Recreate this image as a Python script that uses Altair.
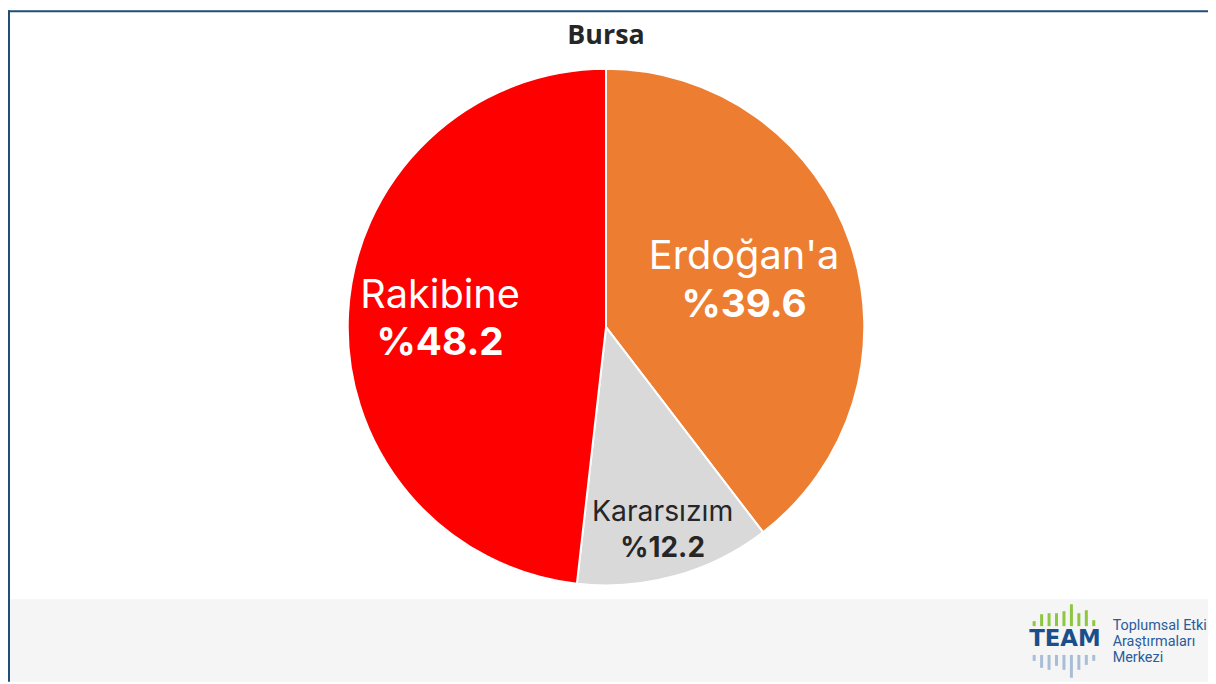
import altair as alt
import pandas as pd

# ---- data ----
categories = ["Erdoğan'a", "Kararsızım", "Rakibine"]
values = [39.6, 12.2, 48.2]
colors = ["#ED7D31", "#D9D9D9", "#FF0000"]
title_text = "Bursa"
logo_word = "TEAM"
logo_green = [5, 12, 13, 13, 15, 22, 13, 16, 6]
logo_blue = [6, 13, 15, 11, 15, 23, 15, 10, 6]
logo_lines = ["Toplumsal Etki", "Araştırmaları", "Merkezi"]

W, H = 1208, 676
one = pd.DataFrame({"a": [0]})

df = pd.DataFrame({"cat": categories, "val": values, "ord": list(range(len(categories)))})

footer = alt.Chart(one).mark_rect(color="#F5F5F5").encode(
    x=alt.value(0), x2=alt.value(W), y=alt.value(593), y2=alt.value(H)
)
border_left = alt.Chart(one).mark_rule(color="#1F4E79", strokeWidth=2).encode(
    x=alt.value(1), y=alt.value(0), y2=alt.value(H)
)
border_top = alt.Chart(one).mark_rule(color="#1F4E79", strokeWidth=2).encode(
    x=alt.value(0), x2=alt.value(W), y=alt.value(1)
)

pie = alt.Chart(df).mark_arc(radius=260, stroke="white", strokeWidth=2).encode(
    theta=alt.Theta("val:Q", stack=True),
    order=alt.Order("ord:Q"),
    color=alt.Color("cat:N", scale=alt.Scale(domain=categories, range=colors), legend=None),
    x=alt.value(602),
    y=alt.value(319),
)

title = alt.Chart(one).mark_text(
    text=title_text, font="Open Sans", fontWeight="bold", fontSize=27,
    color="#262626", align="center", baseline="alphabetic"
).encode(x=alt.value(602), y=alt.value(34))

# label placement (annotation positions)
label_style = {
    "Erdoğan'a": dict(x=741, y1=260, y2=309, s1=40, s2=39, c="white"),
    "Rakibine": dict(x=435, y1=300, y2=347, s1=40, s2=39, c="white"),
    "Kararsızım": dict(x=659, y1=514, y2=550, s1=28.5, s2=28, c="#262626"),
}
labels = []
for cat, val in zip(categories, values):
    st = label_style[cat]
    labels.append(
        alt.Chart(one).mark_text(
            text=cat, font="Inter", fontSize=st["s1"], color=st["c"],
            align="center", baseline="alphabetic"
        ).encode(x=alt.value(st["x"]), y=alt.value(st["y1"]))
    )
    labels.append(
        alt.Chart(one).mark_text(
            text=f"%{val:.1f}", font="Inter", fontWeight="bold", fontSize=st["s2"],
            color=st["c"], align="center", baseline="alphabetic"
        ).encode(x=alt.value(st["x"]), y=alt.value(st["y2"]))
    )

# logo
dlogo = pd.DataFrame({"i": list(range(len(logo_green))), "g": logo_green, "b": logo_blue})
xlogo = alt.X("i:O", scale=alt.Scale(type="point", range=[1033, 1093], padding=0), axis=None)
green = alt.Chart(dlogo).mark_rule(strokeWidth=3, color="#8DC63F").encode(
    x=xlogo,
    y=alt.Y("g:Q", scale=alt.Scale(domain=[0, 22], range=[620, 598]), axis=None),
    y2=alt.value(620),
)
blue = alt.Chart(dlogo).mark_rule(strokeWidth=3, color="#A7BED6").encode(
    x=xlogo,
    y=alt.Y("b:Q", scale=alt.Scale(domain=[0, 23], range=[649, 672]), axis=None),
    y2=alt.value(649),
)
team = alt.Chart(one).mark_text(
    text=logo_word, font="DejaVu Sans", fontWeight="bold", fontSize=23,
    color="#1B4F8A", align="center", baseline="alphabetic"
).encode(x=alt.value(1064), y=alt.value(640))
logo_text = []
for k, line in enumerate(logo_lines):
    logo_text.append(
        alt.Chart(one).mark_text(
            text=line, font="Roboto", fontSize=14.5,
            color="#2B5C99", align="left", baseline="alphabetic"
        ).encode(x=alt.value(1112), y=alt.value(624 + 16 * k))
    )

chart = alt.layer(
    footer, border_left, border_top, pie, title, *labels, green, blue, team, *logo_text
).resolve_scale(y="independent").properties(
    width=W, height=H, padding=0, autosize=alt.AutoSizeParams(type="none"),
    background="white",
).configure_view(stroke=None)

chart.save("out.html", embed_options={"renderer": "svg", "actions": False})
